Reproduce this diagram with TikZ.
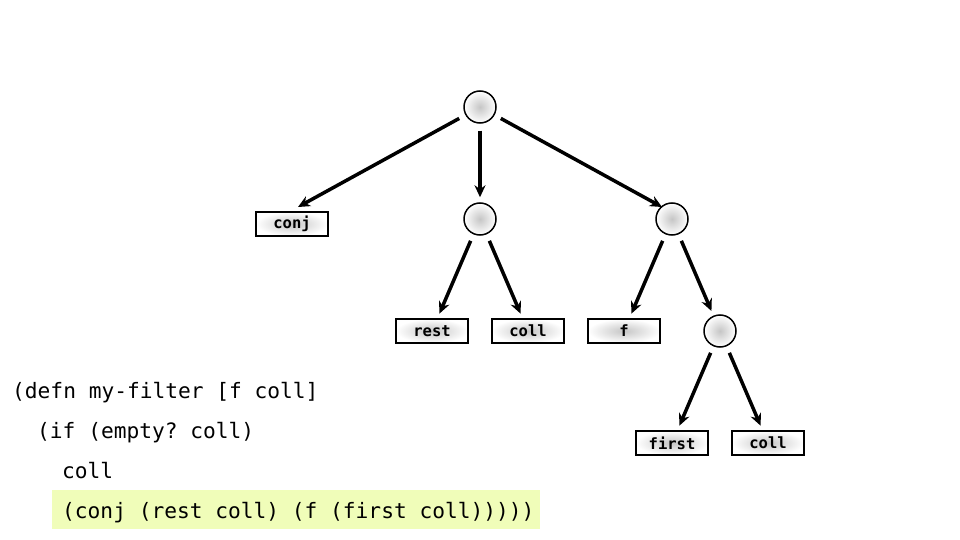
\documentclass[tikz,border=0pt]{standalone}
\usepackage{fontspec}
\setmonofont{DejaVu Sans Mono}
\usetikzlibrary{arrows.meta}
\definecolor{hl}{HTML}{F0FDB9}
\tikzset{
  cnode/.style={circle,draw,line width=1.5pt,minimum size=32pt,inner sep=0pt,shading=radial,inner color=gray!45,outer color=white},
  bnode/.style={rectangle,draw,line width=1.5pt,minimum width=72pt,minimum height=24pt,inner sep=0pt,shading=radial,inner color=gray!45,outer color=white,font=\fontsize{15.5}{17}\ttfamily\bfseries},
  edge/.style={line width=3.5pt,-{Stealth[length=12pt,width=11pt]},shorten <=7pt,shorten >=5pt},
  code/.style={anchor=base west,inner sep=0pt,font=\fontsize{21.2}{24}\ttfamily}
}
\begin{document}
\begin{tikzpicture}[x=1pt,y=-1pt]
\useasboundingbox (0,0) rectangle (960,540);
\node[cnode] (root) at (480,107) {};
\node[cnode] (mid) at (480,219) {};
\node[cnode] (right) at (672,219) {};
\node[cnode] (deep) at (720,331) {};
\node[bnode] (conj) at (292,224) {conj};
\node[bnode] (rest) at (432,331) {rest};
\node[bnode] (coll1) at (528,331) {coll};
\node[bnode] (f) at (624,331) {f};
\node[bnode] (first) at (672,443) {first};
\node[bnode] (coll2) at (768,443) {coll};
\coordinate (conjtip) at (298,207);
\coordinate (righttip) at (662,207);
\draw[edge,shorten >=0pt] (root) -- (conjtip);
\draw[edge] (root) -- (mid);
\draw[edge,shorten >=0pt] (root) -- (righttip);
\draw[edge] (mid) -- (rest);
\draw[edge] (mid) -- (coll1);
\draw[edge] (right) -- (f);
\draw[edge] (right) -- (deep);
\draw[edge] (deep) -- (first);
\draw[edge] (deep) -- (coll2);
\fill[hl] (52,490) rectangle (540,529);
\node[code] (l1) at (12,398) {(defn my-filter [f coll]};
\node[code] (l2) at (37,438) {(if (empty? coll)};
\node[code] (l3) at (62,478) {coll};
\node[code] (l4) at (62,518) {(conj (rest coll) (f (first coll)))))};
\end{tikzpicture}
\end{document}
